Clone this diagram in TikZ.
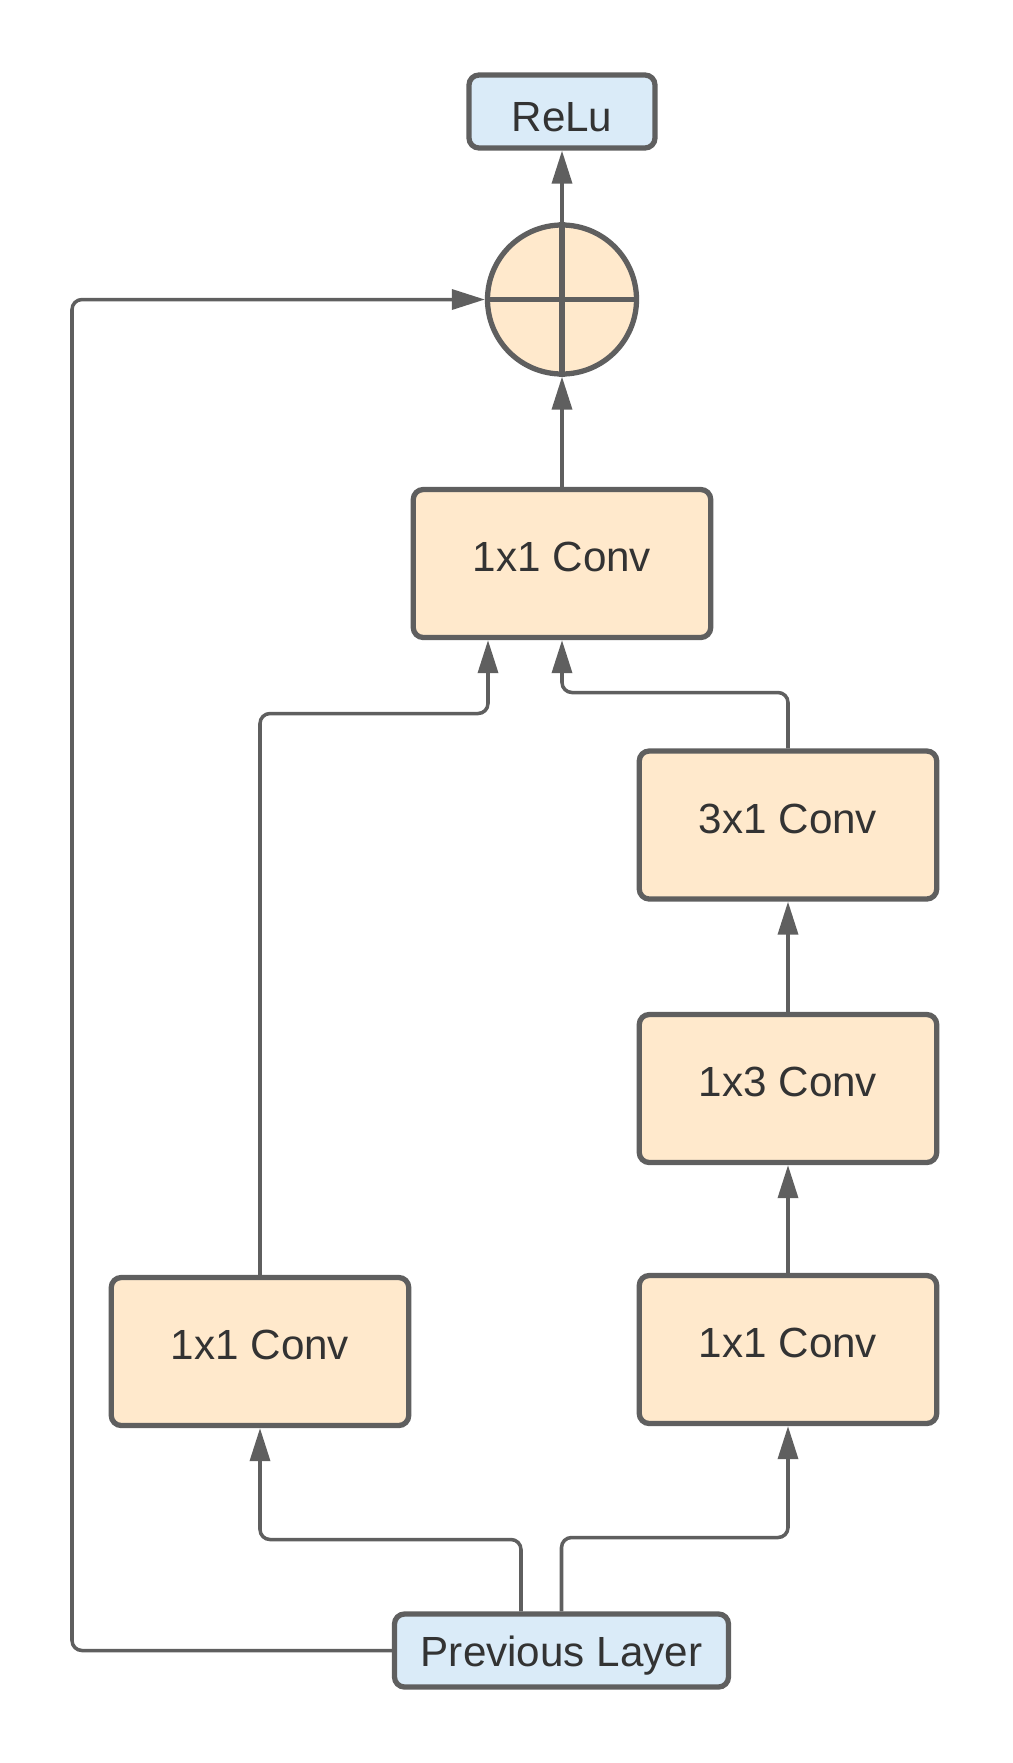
\documentclass[tikz,border=0pt]{standalone}
\usepackage{fontspec}
\setmainfont{Liberation Sans}
\usetikzlibrary{arrows.meta}
\definecolor{edgegray}{HTML}{5F5F5F}
\definecolor{convfill}{HTML}{FFE9CC}
\definecolor{layerfill}{HTML}{DAEBF8}
\definecolor{textgray}{HTML}{333333}
\begin{document}
\begin{tikzpicture}[
  >={Triangle[length=0.66cm,width=0.4cm]},
  conv/.style={draw=edgegray, line width=3pt, fill=convfill, rounded corners=0.2cm,
    minimum width=5.95cm, minimum height=2.96cm, text=textgray, text depth=0.25cm,
    font=\fontsize{24}{28}\selectfont},
  layer/.style={conv, fill=layerfill, minimum height=1.46cm, text depth=, text height=0.8cm},
  link/.style={draw=edgegray, line width=2pt, rounded corners=0.2cm}
]
\useasboundingbox (0.06,-0.03) rectangle (20.32,-35.29);

\node[layer, minimum width=3.72cm] (1) at (11.3,-2.26) {ReLu};
\node[circle, draw=edgegray, line width=3pt, fill=convfill, minimum size=2.98cm] (2) at (11.3,-6.02) {};
\node[conv] (3) at (11.3,-11.3) {1x1 Conv};
\node[conv] (4) at (5.26,-27.06) {1x1 Conv};
\node[conv] (5) at (15.82,-27.02) {1x1 Conv};
\node[conv] (6) at (15.82,-21.8) {1x3 Conv};
\node[conv] (7) at (15.82,-16.53) {3x1 Conv};
\node[layer, minimum width=6.68cm] (8) at (11.29,-33.04) {Previous Layer};

\draw[edgegray, line width=3pt] (2.north) -- (2.south) (2.west) -- (2.east);

\path[link,->] (8.north -| 10.48,0) |- (5.26,-30.82) -- (4.south);
\path[link,->] (8.north) |- (15.82,-30.78) -- (5.south);
\path[link,->] (8.west) -| (1.5,-6.02) -- (2.west);
\path[link,->] (5) -- (6);
\path[link,->] (6) -- (7);
\path[link,->] (4.north) |- (9.82,-14.3) -- (3.south -| 9.82,0);
\path[link,->] (7.north) |- (11.3,-13.88) -- (3.south);
\path[link,->] (3) -- (2);
\path[link,->] (2) -- (1);
\end{tikzpicture}
\end{document}
